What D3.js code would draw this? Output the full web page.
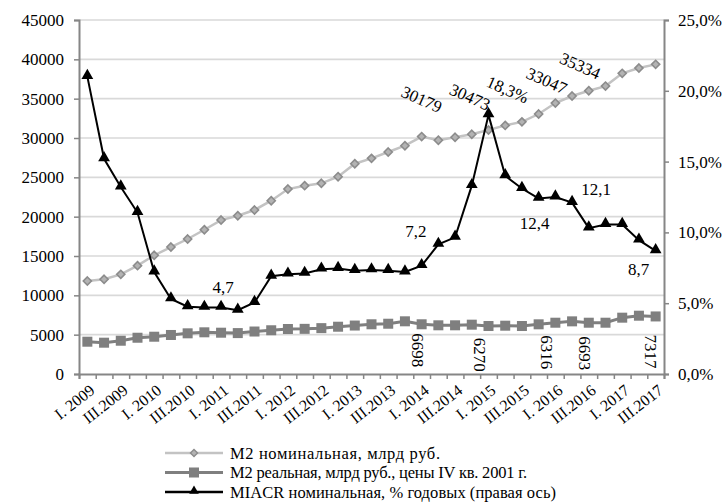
<!DOCTYPE html>
<html>
<head>
<meta charset="utf-8">
<script src="https://cdn.jsdelivr.net/npm/d3@7"></script>
<style>
  html, body { margin: 0; padding: 0; background: #fff; }
  svg text { font-family: "Liberation Serif", "Times New Roman", serif; fill: #000; }
</style>
</head>
<body>
<svg id="chart" width="726" height="503"></svg>
<script>
// Quarters I.2009 … III.2017
const years = [2009, 2010, 2011, 2012, 2013, 2014, 2015, 2016, 2017];
const quarterNames = ["I", "II", "III", "IV"];

// M2 nominal, bn rub.
const m2Nominal = [11820, 12040, 12670, 13770, 15090, 16140, 17160, 18340, 19570, 20120,
  20845, 22030, 23510, 23940, 24240, 25080, 26730, 27410, 28220, 29020,
  30179, 29720, 30090, 30473, 31010, 31600, 32050, 33047, 34440, 35334,
  36010, 36600, 38220, 38890, 39360];

// M2 real, bn rub., prices of Q4 2001
const m2Real = [4105, 3980, 4230, 4610, 4740, 4960, 5170, 5300, 5250, 5200,
  5400, 5560, 5720, 5740, 5830, 6010, 6160, 6320, 6390, 6698,
  6320, 6190, 6190, 6270, 6100, 6140, 6100, 6316, 6520, 6693,
  6520, 6520, 7160, 7410, 7317];

// MIACR nominal, % p.a. (right axis)
const miacr = [21.0, 15.2, 13.2, 11.4, 7.2, 5.3, 4.75, 4.7, 4.7, 4.5,
  5.05, 6.9, 7.05, 7.1, 7.4, 7.45, 7.3, 7.35, 7.3, 7.2,
  7.65, 9.15, 9.65, 13.3, 18.3, 14.0, 13.1, 12.4, 12.5, 12.1,
  10.3, 10.55, 10.55, 9.45, 8.7];

const leftTicks = [0, 5000, 10000, 15000, 20000, 25000, 30000, 35000, 40000, 45000];
const rightTicks = [0, 5, 10, 15, 20, 25];

// Annotated points: index of the quarter, shown text
const nominalNotes = [[20, "30179"], [23, "30473"], [27, "33047"], [29, "35334"]];
const realNotes = [[19, "6698"], [23, "6270"], [27, "6316"], [29, "6693"], [34, "7317"]];
const miacrNotes = [[8, "4,7"], [19, "7,2"], [24, "18,3%"], [27, "12,4"], [29, "12,1"], [34, "8,7"]];

// Label nudges relative to their point (layout only)
const nominalNudge = [[0, -37], [-2, -37], [8, -33], [8, -30]];
const realNudge = [[13, 29], [8, 30], [8, 28], [12, 32], [-5, 35]];
const miacrNudge = [[2, -20], [11, -41], [19, -25], [-4, 25], [24, -13], [-17, 19]];

const categories = [];
years.forEach(y => quarterNames.forEach(q => categories.push(q + "|" + y)));
const cats = categories.slice(0, m2Nominal.length);

const svg = d3.select("#chart");
const plotL = 79, plotR = 664, plotT = 20, plotB = 374;

const x = d3.scaleBand().domain(cats).range([plotL, plotR]).padding(0);
const cx = i => x(cats[i]) + x.bandwidth() / 2;
const yL = d3.scaleLinear().domain([0, 45000]).range([plotB, plotT]);
const yR = d3.scaleLinear().domain([0, 25]).range([plotB, plotT]);

// Gridlines
svg.append("g").selectAll("line").data(leftTicks.filter(d => d > 0)).join("line")
  .attr("x1", plotL).attr("x2", plotR)
  .attr("y1", d => yL(d)).attr("y2", d => yL(d))
  .attr("stroke", "#d9d9d9").attr("stroke-width", 1.6);

// Left axis
const axL = svg.append("g").attr("transform", `translate(${plotL},0)`)
  .call(d3.axisLeft(yL).tickValues(leftTicks).tickFormat(d => d).tickSize(5).tickPadding(10));
// Right axis
const axR = svg.append("g").attr("transform", `translate(${plotR},0)`)
  .call(d3.axisRight(yR).tickValues(rightTicks).tickFormat(d => d3.format(".1f")(d).replace(".", ",") + "%").tickSize(5).tickPadding(9));
// Bottom axis with ticks at quarter boundaries
const xb = d3.scaleLinear().domain([0, cats.length]).range([plotL, plotR]);
const axB = svg.append("g").attr("transform", `translate(0,${plotB})`)
  .call(d3.axisBottom(xb).tickValues(d3.range(cats.length + 1)).tickFormat("").tickSize(5));

[axL, axR, axB].forEach(g => {
  g.select(".domain").attr("stroke", "#868686").attr("stroke-width", 2);
  g.selectAll(".tick line").attr("stroke", "#868686").attr("stroke-width", 1.5);
  g.selectAll("text").attr("font-size", 17).attr("font-family", "Liberation Serif");
});

// Category labels every other quarter
const xLab = svg.append("g");
cats.forEach((c, i) => {
  const [q, yr] = c.split("|");
  if (q !== "I" && q !== "III") return;
  const txt = q === "I" ? "I. " + yr : "III." + yr;
  xLab.append("text")
    .attr("transform", `translate(${cx(i) + 5},${plotB + 14}) rotate(-38)`)
    .attr("text-anchor", "end")
    .attr("dominant-baseline", "central")
    .attr("font-size", 16)
    .text(txt);
});

// Series
const lineL = d3.line().x((d, i) => cx(i)).y(d => yL(d));
const lineR = d3.line().x((d, i) => cx(i)).y(d => yR(d));

svg.append("path").datum(m2Nominal).attr("d", lineL)
  .attr("fill", "none").attr("stroke", "#c3c3c3").attr("stroke-width", 2.5);
svg.append("g").selectAll("path").data(m2Nominal).join("path")
  .attr("transform", (d, i) => `translate(${cx(i)},${yL(d)})`)
  .attr("d", d3.symbol(d3.symbolDiamond2, 42)())
  .attr("fill", "#b3b3b3").attr("stroke", "#8c8c8c").attr("stroke-width", 1.6);

svg.append("path").datum(m2Real).attr("d", lineL)
  .attr("fill", "none").attr("stroke", "#7f7f7f").attr("stroke-width", 3);
svg.append("g").selectAll("rect").data(m2Real).join("rect")
  .attr("x", (d, i) => cx(i) - 5).attr("y", d => yL(d) - 5)
  .attr("width", 10).attr("height", 10).attr("fill", "#7f7f7f");

svg.append("path").datum(miacr).attr("d", lineR)
  .attr("fill", "none").attr("stroke", "#000").attr("stroke-width", 2);
svg.append("g").selectAll("path").data(miacr).join("path")
  .attr("transform", (d, i) => `translate(${cx(i)},${yR(d) - 1})`)
  .attr("d", d3.symbol(d3.symbolTriangle, 60)())
  .attr("fill", "#000");

// Annotations
const notes = svg.append("g").attr("font-size", 17);
nominalNotes.forEach(([i, t], k) => {
  const [dx, dy] = nominalNudge[k];
  notes.append("text")
    .attr("transform", `translate(${cx(i) + dx},${yL(m2Nominal[i]) + dy}) rotate(24)`)
    .attr("text-anchor", "middle").attr("dominant-baseline", "central")
    .text(t);
});
realNotes.forEach(([i, t], k) => {
  const [dx, dy] = realNudge[k];
  notes.append("text")
    .attr("transform", `translate(${cx(i) + dx},${yL(m2Real[i]) + dy}) rotate(90)`)
    .attr("text-anchor", "middle").attr("dominant-baseline", "central")
    .text(t);
});
miacrNotes.forEach(([i, t], k) => {
  const [dx, dy] = miacrNudge[k];
  const el = notes.append("text")
    .attr("text-anchor", "middle").attr("dominant-baseline", "central").text(t);
  if (t.endsWith("%")) {
    el.attr("transform", `translate(${cx(i) + dx},${yR(miacr[i]) + dy}) rotate(24)`);
  } else {
    el.attr("x", cx(i) + dx).attr("y", yR(miacr[i]) + dy);
  }
});

// Legend
const legend = [
  { name: "M2 номинальная, млрд руб.", kind: "nominal", width: 210 },
  { name: "M2 реальная, млрд руб., цены IV кв. 2001 г.", kind: "real", width: 297 },
  { name: "MIACR номинальная, % годовых (правая ось)", kind: "miacr", width: 326 }
];
const lg = svg.append("g");
legend.forEach((d, k) => {
  const yy = 453 + k * 19.5;
  const g = lg.append("g").attr("transform", `translate(165,${yy})`);
  const col = d.kind === "nominal" ? "#c3c3c3" : d.kind === "real" ? "#7f7f7f" : "#000";
  g.append("line").attr("x1", 0).attr("x2", 58).attr("y1", 0).attr("y2", 0)
    .attr("stroke", col).attr("stroke-width", d.kind === "real" ? 3 : 2.5);
  if (d.kind === "nominal") {
    g.append("path").attr("transform", "translate(29,0)").attr("d", d3.symbol(d3.symbolDiamond2, 32)())
      .attr("fill", "#b3b3b3").attr("stroke", "#8c8c8c").attr("stroke-width", 1.4);
  } else if (d.kind === "real") {
    g.append("rect").attr("x", 24).attr("y", -5).attr("width", 10).attr("height", 10).attr("fill", "#7f7f7f");
  } else {
    g.append("path").attr("transform", "translate(29,-1)").attr("d", d3.symbol(d3.symbolTriangle, 40)()).attr("fill", "#000");
  }
  g.append("text").attr("x", 65).attr("y", 0).attr("dominant-baseline", "central")
    .attr("font-size", 16.5).attr("textLength", d.width).attr("lengthAdjust", "spacing")
    .text(d.name);
});
</script>
</body>
</html>
